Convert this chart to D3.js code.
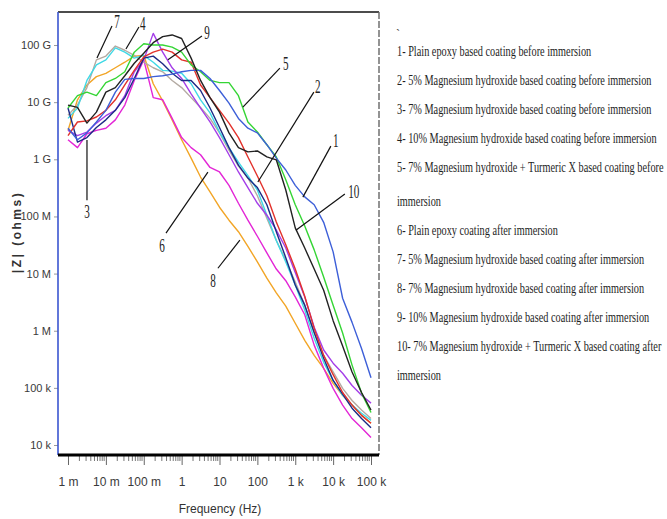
<!DOCTYPE html>
<html><head><meta charset="utf-8">
<script src="https://cdn.jsdelivr.net/npm/d3@7"></script>
<style>
html,body{margin:0;padding:0;background:#fff;}
svg{display:block;}
</style></head>
<body>
<svg id="chart" width="667" height="519"></svg>
<script>
// ---------- DATA ----------
const frequencies = [0.001, 0.00178, 0.00316, 0.00562, 0.01, 0.0178, 0.0316, 0.0562, 0.1, 0.178, 0.316, 0.562, 1, 1.78, 3.16, 5.62, 10, 17.8, 31.6, 56.2, 100, 178, 316, 562, 1000, 1780, 3160, 5620, 10000, 17800, 31600, 56200, 100000];

const z1  = [3.5e9, 2.2e9, 2.9e9, 4.5e9, 7.2e9, 1.5e10, 2.5e10, 2.6e10, 2.6e10, 2.8e10, 2.9e10, 3.1e10, 3.4e10, 3.6e10, 3.6e10, 2.6e10, 1.6e10, 9.6e9, 5.2e9, 3.5e9, 2.9e9, 1.8e9, 1.05e9, 6.5e8, 3.5e8, 2.2e8, 1.6e8, 7.9e7, 2.4e7, 3.7e6, 1.4e6, 4.9e5, 1.5e5];
const z2  = [2.6e9, 4.5e9, 4.7e9, 5.5e9, 7.2e9, 1.1e10, 2.0e10, 3.6e10, 6.2e10, 7.5e10, 8.5e10, 7.5e10, 5.5e10, 5.0e10, 2.0e10, 1.2e10, 7.2e9, 4.3e9, 2.4e9, 1.1e9, 5.1e8, 2.3e8, 8.0e7, 3.2e7, 1.2e7, 4.0e6, 1.1e6, 3.7e5, 1.7e5, 8.3e4, 5.0e4, 3.3e4, 2.4e4];
const z3  = [7.9e9, 2.0e9, 2.4e9, 3.6e9, 4.9e9, 7.2e9, 1.2e10, 2.6e10, 5.9e10, 6.4e10, 4.7e10, 3.2e10, 2.4e10, 2.4e10, 1.6e10, 7.9e9, 3.6e9, 1.6e9, 7.9e8, 4.7e8, 3.2e8, 1.6e8, 5.4e7, 1.9e7, 6.3e6, 2.8e6, 9.3e5, 3.3e5, 1.35e5, 7.8e4, 4.4e4, 2.9e4, 2.0e4];
const z4  = [3.2e9, 2.6e9, 3.0e9, 4.3e9, 5.8e9, 7.2e9, 1.3e10, 3.4e10, 5.5e10, 1.6e11, 7.5e10, 4.0e10, 2.6e10, 1.4e10, 7.9e9, 4.5e9, 2.4e9, 1.2e9, 6.0e8, 3.2e8, 1.7e8, 1.05e8, 5.8e7, 2.8e7, 1.05e7, 3.9e6, 1.15e6, 4.6e5, 2.7e5, 1.8e5, 1.1e5, 7.4e4, 5.4e4];
const z5  = [7.9e9, 1.3e10, 1.5e10, 1.3e10, 2.2e10, 2.6e10, 3.4e10, 7.5e10, 1.05e11, 1.0e11, 1.0e11, 9.2e10, 7.5e10, 4.5e10, 3.4e10, 2.4e10, 2.2e10, 2.2e10, 1.3e10, 4.5e9, 3.0e9, 1.8e9, 1.1e9, 4.4e8, 1.6e8, 6.8e7, 2.6e7, 8.7e6, 2.8e6, 9.1e5, 2.5e5, 8.1e4, 3.7e4];
const z6  = [2.2e9, 1.6e9, 2.8e9, 3.2e9, 3.5e9, 4.9e9, 8.9e9, 2.4e10, 5.5e10, 1.2e10, 1.1e10, 5.2e9, 2.4e9, 1.6e9, 1.2e9, 7.2e8, 6.0e8, 3.5e8, 1.7e8, 8.6e7, 4.5e7, 2.3e7, 1.2e7, 7.5e6, 3.9e6, 1.9e6, 5.6e5, 2.2e5, 9.8e4, 5.0e4, 2.9e4, 2.0e4, 1.35e4];
const z7  = [5.2e9, 7.9e9, 2.4e10, 4.5e10, 5.5e10, 8.9e10, 7.5e10, 5.9e10, 6.6e10, 5.0e10, 3.6e10, 3.5e10, 3.2e10, 2.1e10, 1.1e10, 6.5e9, 3.0e9, 1.6e9, 8.9e8, 5.2e8, 2.9e8, 1.05e8, 3.8e7, 1.6e7, 6.3e6, 2.3e6, 7.4e5, 2.8e5, 1.35e5, 7.4e4, 5.0e4, 3.6e4, 2.7e4];
const z8  = [3.2e9, 1.1e10, 2.0e10, 2.8e10, 3.2e10, 4.0e10, 5.0e10, 6.4e10, 6.6e10, 2.1e10, 1.05e10, 4.9e9, 2.2e9, 1.05e9, 4.9e8, 2.7e8, 1.45e8, 8.6e7, 5.4e7, 3.0e7, 1.6e7, 8.3e6, 4.6e6, 2.7e6, 1.35e6, 6.8e5, 3.7e5, 2.2e5, 1.2e5, 7.4e4, 5.0e4, 3.3e4, 2.4e4];
const z9  = [5.9e9, 8.9e9, 1.8e10, 5.5e10, 6.4e10, 9.6e10, 8.1e10, 6.6e10, 5.0e10, 4.0e10, 3.4e10, 2.4e10, 1.8e10, 1.2e10, 8.1e9, 5.2e9, 2.9e9, 1.45e9, 7.6e8, 4.7e8, 2.3e8, 9.3e7, 3.8e7, 1.7e7, 7.1e6, 2.8e6, 9.3e5, 3.7e5, 1.9e5, 9.8e4, 6.0e4, 4.1e4, 2.9e4];
const z10 = [8.9e9, 8.1e9, 4.3e9, 6.7e9, 1.5e10, 1.8e10, 2.9e10, 4.8e10, 7.2e10, 1.1e11, 1.4e11, 1.5e11, 1.3e11, 5.9e10, 2.4e10, 1.2e10, 6.7e9, 2.9e9, 1.6e9, 1.35e9, 1.4e9, 1.1e9, 9.8e8, 2.9e8, 6.3e7, 2.8e7, 1.2e7, 5.1e6, 1.5e6, 5.4e5, 1.9e5, 8.3e4, 4.1e4];

const seriesNames = ["1","2","3","4","5","6","7","8","9","10"];
const seriesColors = ["#3d5fd8", "#e2312b", "#1c2a86", "#a43ee8", "#35d535", "#e326d6", "#3fd9e6", "#f2a526", "#b3aaa2", "#222222"];

const yTickValues = [1e4, 1e5, 1e6, 1e7, 1e8, 1e9, 1e10, 1e11];
const yTickLabels = ["10 k", "100 k", "1 M", "10 M", "100 M", "1 G", "10 G", "100 G"];
const xTickValues = [1e-3, 1e-2, 1e-1, 1, 10, 100, 1e3, 1e4, 1e5];
const xTickLabels = ["1 m", "10 m", "100 m", "1", "10", "100", "1 k", "10 k", "100 k"];

// annotation callouts in data space: label, text position, leader start, leader tip
const calloutLabels = ["7", "4", "9", "5", "2", "1", "10", "3", "6", "8"];
const calloutText  = [[0.0196, 2.5e11], [0.095, 2.3e11], [4.66, 1.6e11], [565, 4.6e10], [3950, 1.84e10], [11800, 2.08e9], [35200, 2.67e8], [0.00317, 1.19e8], [0.302, 3.0e7], [6.7, 7.4e6]];
const calloutStart = [[0.0145, 2.15e11], [0.0747, 2.07e11], [3.44, 1.44e11], [393, 3.95e10], [3100, 1.5e10], [8700, 1.7e9], [20400, 2.46e8], [0.00317, 1.93e8], [0.386, 5.1e7], [9.08, 1.24e7]];
const calloutTip   = [[0.00582, 5.9e10], [0.0339, 8.5e10], [0.435, 5.5e10], [41.4, 8.2e9], [103, 4.0e8], [1590, 2.18e8], [1040, 5.75e7], [0.00317, 2.17e9], [4.94, 5.97e8], [34.5, 3.85e7]];

const legendLines = [
  "1- Plain epoxy based coating before immersion",
  "2- 5% Magnesium hydroxide based coating before immersion",
  "3- 7% Magnesium hydroxide based coating before immersion",
  "4- 10% Magnesium hydroxide based coating before immersion",
  "5- 7% Magnesium hydroxide + Turmeric X based coating before",
  "immersion",
  "6- Plain epoxy coating after immersion",
  "7- 5% Magnesium hydroxide based coating after immersion",
  "8- 7% Magnesium hydroxide based coating after immersion",
  "9- 10% Magnesium hydroxide based coating after immersion",
  "10- 7% Magnesium hydroxide + Turmeric X based coating after",
  "immersion"
];

// ---------- DRAWING ----------
const allZ = [z1, z2, z3, z4, z5, z6, z7, z8, z9, z10];
const svg = d3.select("#chart");
const plot = {left: 58, right: 379, top: 12, bottom: 455};

const x = d3.scaleLog().domain([Math.pow(10, -3.264), Math.pow(10, 5.211)]).range([plot.left, plot.right]);
const y = d3.scaleLog().domain([Math.pow(10, 3.825), Math.pow(10, 11.578)]).range([plot.bottom, plot.top]);

const sansFont = "'Liberation Sans', Arial, sans-serif";
const serifFont = "'Liberation Serif', 'Times New Roman', serif";

svg.append("defs").append("clipPath").attr("id", "clip")
  .append("rect").attr("x", plot.left).attr("y", plot.top)
  .attr("width", plot.right - plot.left).attr("height", plot.bottom - plot.top);

// curves
const line = d3.line().x(d => x(d[0])).y(d => y(d[1]));
const curveG = svg.append("g").attr("clip-path", "url(#clip)");
const drawOrder = [7, 5, 8, 6, 3, 2, 1, 4, 0, 9];
drawOrder.forEach(i => {
  const pts = frequencies.map((f, k) => [f, allZ[i][k]]);
  curveG.append("path").datum(pts)
    .attr("d", line)
    .attr("fill", "none")
    .attr("stroke", seriesColors[i])
    .attr("stroke-width", 1.4)
    .attr("stroke-linejoin", "round");
});

// frame: top and right
svg.append("line").attr("x1", plot.left).attr("x2", plot.right).attr("y1", plot.top).attr("y2", plot.top)
  .attr("stroke", "#111").attr("stroke-width", 1.6);
svg.append("line").attr("x1", plot.right).attr("x2", plot.right).attr("y1", plot.top).attr("y2", plot.bottom)
  .attr("stroke", "#666").attr("stroke-width", 1.4).attr("stroke-dasharray", "7,2");

// Y axis
const yAxis = d3.axisLeft(y).tickValues(yTickValues)
  .tickFormat((d, i) => yTickLabels[i]).tickSize(4).tickPadding(3);
const yG = svg.append("g").attr("transform", `translate(${plot.left},0)`).call(yAxis);
yG.select(".domain").remove();
yG.selectAll(".tick line").attr("stroke", "#999");
yG.selectAll(".tick text").attr("font-family", sansFont).attr("font-size", 11).attr("fill", "#3a3a3a");
svg.append("line").attr("x1", plot.left).attr("x2", plot.left).attr("y1", plot.top).attr("y2", plot.bottom)
  .attr("stroke", "#3a55d0").attr("stroke-width", 1.6);

// X axis
const xAxis = d3.axisBottom(x).tickValues(xTickValues)
  .tickFormat((d, i) => xTickLabels[i]).tickSize(10).tickPadding(12);
const xG = svg.append("g").attr("transform", `translate(0,${plot.bottom})`).call(xAxis);
xG.select(".domain").remove();
xG.selectAll(".tick line").attr("stroke", "#666");
xG.selectAll(".tick text").attr("font-family", sansFont).attr("font-size", 12).attr("fill", "#3a3a3a");
const minor = [];
xTickValues.slice(0, -1).forEach(d => { for (let m = 2; m <= 9; m++) minor.push(d * m); });
svg.append("g").selectAll("line").data(minor).join("line")
  .attr("x1", d => x(d)).attr("x2", d => x(d))
  .attr("y1", plot.bottom).attr("y2", plot.bottom + 6)
  .attr("stroke", "#777").attr("stroke-width", 1);
svg.append("line").attr("x1", plot.left).attr("x2", plot.right).attr("y1", plot.bottom).attr("y2", plot.bottom)
  .attr("stroke", "#000").attr("stroke-width", 3);

// axis titles
svg.append("text").attr("transform", "translate(21,232) rotate(-90)")
  .attr("text-anchor", "middle").attr("font-family", sansFont).attr("font-weight", "bold")
  .attr("font-size", 12).attr("letter-spacing", 2.5).attr("fill", "#333").text("|Z| (ohms)");
svg.append("text").attr("x", 220).attr("y", 513)
  .attr("text-anchor", "middle").attr("font-family", sansFont)
  .attr("font-size", 12).attr("fill", "#333").text("Frequency (Hz)");

// callouts
const cg = svg.append("g");
calloutLabels.forEach((lab, i) => {
  cg.append("line")
    .attr("x1", x(calloutStart[i][0])).attr("y1", y(calloutStart[i][1]))
    .attr("x2", x(calloutTip[i][0])).attr("y2", y(calloutTip[i][1]))
    .attr("stroke", "#111").attr("stroke-width", 1.2);
  cg.append("text")
    .attr("transform", `translate(${x(calloutText[i][0])},${y(calloutText[i][1])}) scale(0.62,1)`)
    .attr("text-anchor", "middle").attr("dominant-baseline", "central")
    .attr("font-family", serifFont).attr("font-size", 18).attr("fill", "#222").text(lab);
});

// legend text (condensed serif)
const lg = svg.append("g");
legendLines.forEach((s, i) => {
  const yy = i < 5 ? 56 + 29 * i : 61 + 29 * i;
  lg.append("text").attr("transform", `translate(397,${yy}) scale(0.71,1)`)
    .attr("font-family", serifFont).attr("font-size", 14.5).attr("fill", "#1e1e1e").text(s);
});
svg.append("text").attr("x", 396).attr("y", 38).attr("font-family", serifFont)
  .attr("font-size", 12).attr("fill", "#444").text("`");
</script>
</body></html>
